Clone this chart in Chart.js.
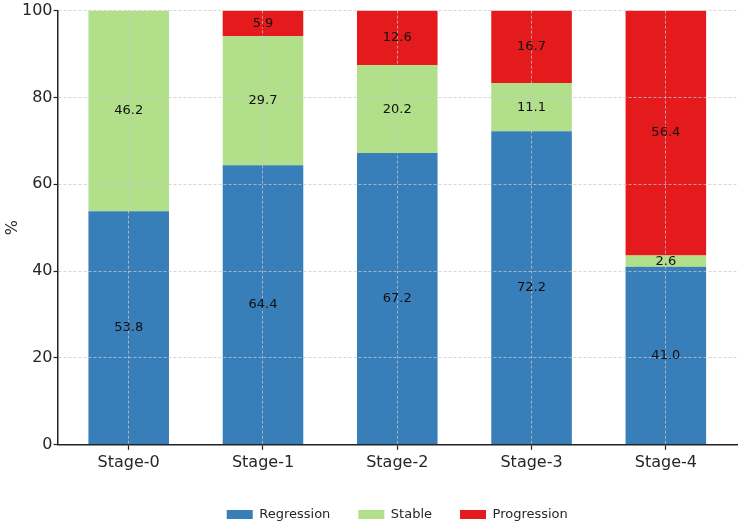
<!DOCTYPE html>
<html>
<head>
<meta charset="utf-8">
<script src="https://cdn.jsdelivr.net/npm/chart.js@4/dist/chart.umd.min.js"></script>
<style>
  html, body { margin: 0; padding: 0; background: #fff; }
  #wrap { width: 740px; height: 526px; }
</style>
</head>
<body>
<div id="wrap"><canvas id="myChart"></canvas></div>
<script>
// categories and series (percent of patients per stage)
let stages = ['Stage-0', 'Stage-1', 'Stage-2', 'Stage-3', 'Stage-4'];
let regression = [53.8, 64.4, 67.2, 72.2, 41.0];
let stable = [46.2, 29.7, 20.2, 11.1, 2.6];
let progression = [0, 5.9, 12.6, 16.7, 56.4];
let yTicks = [0, 20, 40, 60, 80, 100];

let font = "'DejaVu Sans', sans-serif";
let textColor = '#262626';
let gridColor = 'rgba(200,200,200,0.75)';

// writes the value in the middle of each bar segment
const segmentLabels = {
   id: 'segmentLabels',
   afterDraw(chart) {
      const c = chart.ctx;
      c.save();
      c.font = '13px ' + font;
      c.fillStyle = '#111';
      c.textAlign = 'center';
      c.textBaseline = 'middle';
      chart.data.datasets.forEach(function(ds, i) {
         chart.getDatasetMeta(i).data.forEach(function(bar, j) {
            const v = ds.data[j];
            if (!v) return;
            c.fillText(v.toFixed(1), bar.x, (bar.y + bar.base) / 2);
         });
      });
      c.restore();
   }
};

let ctx = document.getElementById('myChart');
let myChart = new Chart(ctx, {
   type: 'bar',
   data: {
      labels: stages,
      datasets: [
         { label: 'Regression', data: regression, backgroundColor: '#387fba' },
         { label: 'Stable', data: stable, backgroundColor: '#b2df8a' },
         { label: 'Progression', data: progression, backgroundColor: '#e41a1c' }
      ]
   },
   options: {
      responsive: true,
      maintainAspectRatio: false,
      animation: false,
      datasets: { bar: { categoryPercentage: 1, barPercentage: 0.6 } },
      layout: { padding: { top: 5, right: 3, left: 5, bottom: -5 } },
      scales: {
         x: {
            stacked: true,
            // a bit more room at both ends than the default half category
            afterBuildTicks: function(scale) {
               const pad = 0.53;
               scale._startValue = scale.min - pad;
               scale._valueRange = (scale.max - scale.min) + 2 * pad;
            },
            afterFit: function(scale) { scale.height += 5; },
            grid: {
               z: 1,
               offset: false,
               color: gridColor,
               lineWidth: 1,
               tickLength: 5,
               tickColor: '#222',
               tickWidth: 1.2
            },
            border: { z: 1, color: '#222', width: 1.5, dash: [3, 2] },
            ticks: { color: textColor, font: { family: font, size: 16 }, padding: 3 }
         },
         y: {
            stacked: true,
            min: 0,
            max: 100,
            afterBuildTicks: function(scale) {
               scale.ticks = yTicks.map(v => ({ value: v }));
            },
            grid: {
               z: 1,
               // no dashed line over the x axis itself
               color: c => (c.tick && c.tick.value === 0) ? 'rgba(0,0,0,0)' : gridColor,
               lineWidth: 1,
               tickLength: 4,
               tickColor: '#222',
               tickWidth: 1.2
            },
            border: { z: 1, color: '#222', width: 1.5, dash: [3, 2] },
            ticks: { color: textColor, font: { family: font, size: 16 }, padding: 1 },
            title: { display: true, text: '%', color: textColor, font: { family: font, size: 16, lineHeight: 1 }, padding: 0 }
         }
      },
      plugins: {
         legend: {
            position: 'bottom',
            fullSize: false,
            labels: {
               boxWidth: 26,
               boxHeight: 9,
               padding: 28,
               color: textColor,
               font: { family: font, size: 13 }
            }
         },
         tooltip: { enabled: false }
      }
   },
   plugins: [segmentLabels]
});
</script>
</body>
</html>
